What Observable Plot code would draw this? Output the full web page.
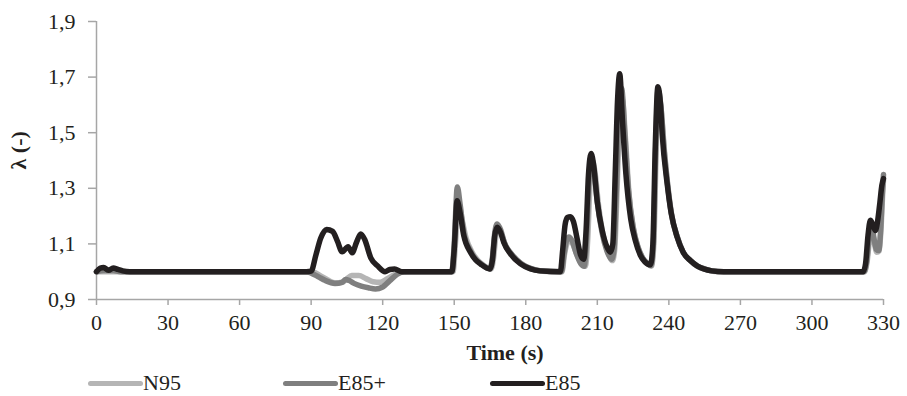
<!DOCTYPE html>
<html>
<head>
<meta charset="utf-8">
<script src="https://cdn.jsdelivr.net/npm/d3@7"></script>
<script src="https://cdn.jsdelivr.net/npm/@observablehq/plot@0.6"></script>
</head>
<body style="margin:0;padding:0;background:#fff">
<div id="chart" style="position:relative;width:907px"></div>
<div id="legend" style="position:relative;width:907px;height:26px;font-size:22px;color:#231f20"></div>
<script>
// ---- data ----
const seriesNames = ["N95", "E85+", "E85"];
const seriesColors = ["#b5b5b5", "#7f7f7f", "#231f20"];

const xTicks = [0, 30, 60, 90, 120, 150, 180, 210, 240, 270, 300, 330];
const yTicks = [0.9, 1.1, 1.3, 1.5, 1.7, 1.9];

const n95T = [0, 88, 91, 94, 97, 100, 103, 105, 107, 110, 113, 116, 119, 122, 125, 128, 131,
  149.5, 150.5, 151.8, 153, 155, 157.5, 160, 162, 165.5, 166.5, 167.5, 168.5, 170, 171.5, 174.5, 178.5, 183, 187,
  195.2, 196.2, 197.2, 198.2, 199.7, 201.5, 203.5, 205, 206, 207, 208, 209, 210.5, 212.5, 214.5, 216.3, 217.3, 218.3,
  219.5, 220.5, 221.8, 223.3, 225.3, 227.3, 229.3, 231.3, 232.7, 233.7, 234.7, 235.7, 236.8, 238.2, 239.7, 241.3,
  243.8, 246.3, 249.3, 252.3, 255.3, 258.3, 263, 322, 323.2, 324.2, 325.2, 326.2, 327.2, 328.2, 329, 329.6, 330];
const n95V = [1.0, 1.0, 0.998, 0.985, 0.97, 0.96, 0.962, 0.975, 0.986, 0.986, 0.975, 0.964, 0.962, 0.975, 0.99, 0.999, 1.0,
  1.0, 1.1, 1.25, 1.2, 1.12, 1.07, 1.04, 1.025, 1.01, 1.05, 1.13, 1.155, 1.13, 1.095, 1.058, 1.026, 1.008, 1.002,
  1.0, 1.06, 1.1, 1.115, 1.1, 1.06, 1.03, 1.02, 1.12, 1.33, 1.4, 1.36, 1.24, 1.13, 1.07, 1.04, 1.08, 1.3,
  1.58, 1.62, 1.48, 1.28, 1.15, 1.08, 1.045, 1.028, 1.02, 1.1, 1.44, 1.64, 1.58, 1.43, 1.3, 1.2,
  1.12, 1.066, 1.038, 1.018, 1.008, 1.002, 1.0, 1.0, 1.04, 1.12, 1.15, 1.1, 1.07, 1.075, 1.16, 1.27, 1.33];

const e85pT = [0, 3, 7, 10, 88, 90, 93, 96, 100, 103, 104.5, 106, 108, 111, 114, 117, 120, 123, 126, 129,
  149, 150, 151.3, 152.5, 154, 156.8, 159, 161, 165, 166, 167, 168, 169.5, 171, 174, 178, 182, 186,
  195, 196, 197, 198, 199.5, 201, 203, 204.5, 205.5, 206.5, 207.5, 208.5, 210, 212, 214, 216, 217, 218,
  219.2, 220.2, 221.5, 223, 225, 227, 229, 231, 232.5, 233.5, 234.5, 235.5, 236.6, 238, 239.5, 241,
  243.5, 246, 249, 252, 255, 258, 263, 321.8, 323, 324, 325, 326, 327, 328, 328.8, 329.5, 330];
const e85pV = [1.0, 1.004, 1.004, 1.0, 1.0, 0.995, 0.982, 0.968, 0.958, 0.962, 0.972, 0.968, 0.958, 0.948, 0.942, 0.938, 0.945, 0.968, 0.99, 1.0,
  1.0, 1.1, 1.305, 1.24, 1.14, 1.075, 1.045, 1.03, 1.01, 1.05, 1.14, 1.172, 1.15, 1.105, 1.064, 1.03, 1.012, 1.003,
  1.0, 1.06, 1.11, 1.125, 1.11, 1.07, 1.03, 1.02, 1.12, 1.33, 1.41, 1.37, 1.25, 1.14, 1.075, 1.045, 1.08, 1.3,
  1.6, 1.66, 1.5, 1.3, 1.16, 1.09, 1.05, 1.03, 1.022, 1.1, 1.45, 1.655, 1.6, 1.44, 1.31, 1.21,
  1.125, 1.07, 1.04, 1.02, 1.01, 1.003, 1.0, 1.0, 1.04, 1.13, 1.17, 1.12, 1.08, 1.076, 1.15, 1.28, 1.35];

const e85T = [0, 1.5, 3, 5, 7, 9, 11, 14, 88, 90, 92, 94, 96.5, 99, 101, 103, 105.5, 107.2, 109, 110.8, 112.5, 115, 118, 121, 123, 125, 128,
  149, 150, 151.2, 152.5, 154, 156.8, 159, 161, 165, 166, 167, 168, 169.5, 170.8, 173.6, 177.8, 182, 186,
  194.5, 195.5, 196.5, 197.5, 198.7, 200, 201.5, 203, 204.3, 205.3, 206.3, 207.4, 208.5, 210, 212, 214, 215.5, 216.5, 217.5, 218.5,
  219.4, 220.5, 222, 224, 226, 228, 230, 232.3, 233.3, 234.3, 235.4, 236.5, 237.2, 239.3, 241, 243.5, 246, 249, 252, 254.6, 258, 263,
  321.5, 322.5, 323.5, 324.5, 325.5, 326.6, 327.5, 328.5, 329.3, 330];
const e85V = [1.0, 1.012, 1.015, 1.005, 1.013, 1.008, 1.003, 1.0, 1.0, 1.002, 1.06, 1.12, 1.152, 1.145, 1.11, 1.072, 1.09, 1.068, 1.105, 1.136, 1.115, 1.05, 1.02, 1.0, 1.008, 1.01, 1.0,
  1.0, 1.08, 1.255, 1.21, 1.13, 1.07, 1.042, 1.028, 1.01, 1.04, 1.13, 1.16, 1.14, 1.105, 1.064, 1.028, 1.01, 1.003,
  1.0, 1.08, 1.17, 1.195, 1.198, 1.18, 1.12, 1.06, 1.045, 1.15, 1.35, 1.425, 1.38, 1.25, 1.15, 1.09, 1.07, 1.1, 1.35, 1.62,
  1.712, 1.55, 1.35, 1.19, 1.11, 1.06, 1.035, 1.025, 1.1, 1.45, 1.665, 1.6, 1.496, 1.316, 1.21, 1.124, 1.07, 1.04, 1.02, 1.01, 1.003, 1.0,
  1.0, 1.03, 1.13, 1.185, 1.17, 1.148, 1.18, 1.25, 1.31, 1.335];

// ---- build table ----
function rows(name, T, V) { return T.map((t, i) => ({series: name, t, v: V[i]})); }
const tables = [rows("N95", n95T, n95V), rows("E85+", e85pT, e85pV), rows("E85", e85T, e85V)];

const axisGray = "#a6a6a6";
const textColor = "#231f20";
const fmt = d => d.toFixed(1).replace(".", ",");

const chart = Plot.plot({
  width: 907,
  height: 370,
  marginLeft: 96,
  marginRight: 24,
  marginTop: 21,
  marginBottom: 71,
  style: {fontSize: "22px", color: textColor, background: "#fff"},
  x: {domain: [0, 330]},
  y: {domain: [0.9, 1.9]},
  marks: [
    Plot.axisY({ticks: yTicks, tickFormat: fmt, tickSize: 8, tickPadding: 13, stroke: axisGray, fill: textColor, strokeWidth: 1.5, label: null, fontSize: 22}),
    Plot.axisX({ticks: xTicks, tickFormat: d => String(d), tickSize: 6, tickPadding: 9, stroke: axisGray, fill: textColor, strokeWidth: 1.5, label: null, fontSize: 22}),
    Plot.ruleX([0], {stroke: axisGray, strokeWidth: 1.5}),
    Plot.ruleY([0.9], {stroke: axisGray, strokeWidth: 1.5}),
    ...tables.map((tb, i) => Plot.line(tb, {
      x: "t", y: "v", stroke: seriesColors[i], strokeWidth: 5.5, curve: "monotone-x",
      strokeLinejoin: "round", strokeLinecap: "round"
    })),
    Plot.text(["Time (s)"], {frameAnchor: "bottom", dy: 60, dx: 15, fontWeight: "bold", fontSize: 22, fill: textColor}),
    Plot.text(["λ (-)"], {frameAnchor: "left", rotate: -90, dx: -78, dy: 9, fontWeight: "bold", fontSize: 22, fill: textColor})
  ]
});
document.getElementById("chart").appendChild(chart);

// ---- legend ----
const legend = document.getElementById("legend");
const legendX = [88, 283, 490];
seriesNames.forEach((name, i) => {
  const sw = document.createElement("div");
  sw.style.cssText = `position:absolute;top:11px;height:5px;border-radius:2.5px;width:55px;left:${legendX[i]}px;background:${seriesColors[i]}`;
  legend.appendChild(sw);
  const lb = document.createElement("span");
  lb.style.cssText = `position:absolute;top:0;line-height:26px;left:${legendX[i] + 55}px`;
  lb.textContent = name;
  legend.appendChild(lb);
});

// force serif font everywhere
const setFont = el => el.style.setProperty("font-family", "'Liberation Serif'", "important");
setFont(chart);
chart.querySelectorAll("g, text, tspan").forEach(setFont);
legend.querySelectorAll("span").forEach(setFont);
setFont(legend);
</script>
</body>
</html>
